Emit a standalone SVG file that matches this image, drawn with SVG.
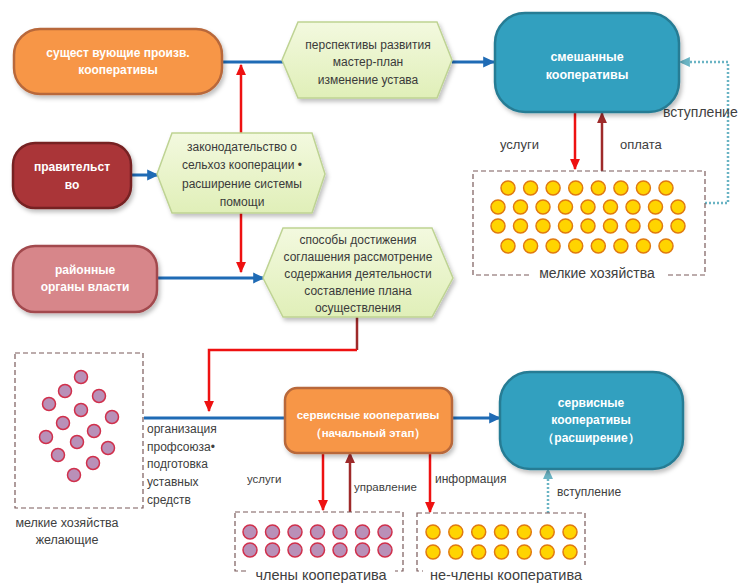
<svg xmlns="http://www.w3.org/2000/svg" width="742" height="583" viewBox="0 0 742 583">
<style>
text{font-family:"Liberation Sans",Arial,sans-serif;fill:#404040}
.w{fill:#ffffff;font-weight:bold;font-size:12px}
.h{font-size:12px;fill:#3a3a3a}
.box{stroke-width:2.5}
.org{fill:#f79646;stroke:#b8683a}
.blu{fill:#31a0bf;stroke:#287c94}
.dred{fill:#aa3439;stroke:#762224}
.pink{fill:#d7868a;stroke:#a24a4e}
.hex{fill:url(#gh);stroke:#bed393;stroke-width:1.5}
.dash{fill:none;stroke:#7a5a5a;stroke-width:1.2;stroke-dasharray:5,3}
.cy{fill:#ffd400;stroke:#e07a10;stroke-width:1.5}
.cp{fill:#b990b8;stroke:#d0304c;stroke-width:1.5}
.lb{stroke:#1f6bb5;stroke-width:3;fill:none}
.lr{stroke:#ee1111;stroke-width:2.5;fill:none}
.ld{stroke:#9e2a2a;stroke-width:2.5;fill:none}
.lt{stroke:#6ab4c4;stroke-width:2.5;fill:none;stroke-dasharray:2,2}
</style>
<defs>
<linearGradient id="gh" x1="0" y1="0" x2="0" y2="1"><stop offset="0" stop-color="#f3f9df"/><stop offset="1" stop-color="#e0efb8"/></linearGradient>
<filter id="sh" x="-10%" y="-10%" width="130%" height="140%"><feDropShadow dx="2" dy="3" stdDeviation="2" flood-color="#000" flood-opacity="0.25"/></filter>
<marker id="mb" markerUnits="userSpaceOnUse" markerWidth="12" markerHeight="12" viewBox="0 0 10 10" refX="9" refY="5" orient="auto"><path d="M0,0.5 L10,5 L0,9.5 z" fill="#1f6bb5"/></marker>
<marker id="mr" markerUnits="userSpaceOnUse" markerWidth="11" markerHeight="11" viewBox="0 0 10 10" refX="9" refY="5" orient="auto"><path d="M0,0.5 L10,5 L0,9.5 z" fill="#ee1111"/></marker>
<marker id="md" markerUnits="userSpaceOnUse" markerWidth="11" markerHeight="11" viewBox="0 0 10 10" refX="9" refY="5" orient="auto"><path d="M0,0.5 L10,5 L0,9.5 z" fill="#9e2a2a"/></marker>
<marker id="mt" markerUnits="userSpaceOnUse" markerWidth="11" markerHeight="11" viewBox="0 0 10 10" refX="9" refY="5" orient="auto"><path d="M0,0.5 L10,5 L0,9.5 z" fill="#6ab4c4"/></marker>
</defs>
<rect width="742" height="583" fill="#ffffff"/>

<g id="connectors">
<path class="lb" d="M222,62 H283"/>
<path class="lb" d="M452,62 H494" marker-end="url(#mb)"/>
<path class="lb" d="M131,175 H158" marker-end="url(#mb)"/>
<path class="lb" d="M157,278 H264" marker-end="url(#mb)"/>
<path class="lb" d="M144,418 H286"/>
<path class="lb" d="M452,418 H500" marker-end="url(#mb)"/>
<path class="lr" d="M241,133 V65" marker-end="url(#mr)"/>
<path class="lr" d="M241,213 V272" marker-end="url(#mr)"/>
<path class="ld" d="M357,317 V350"/>
<path class="lr" d="M357,350 H209 V411" marker-end="url(#mr)"/>
<path class="lr" d="M575,112 V169" marker-end="url(#mr)"/>
<path class="ld" d="M602,171 V113" marker-end="url(#md)"/>
<path class="lt" d="M705,203 H728 V62 H680" marker-end="url(#mt)"/>
<path class="lr" d="M323,453 V510" marker-end="url(#mr)"/>
<path class="ld" d="M350,512 V453" marker-end="url(#md)"/>
<path class="lr" d="M430,453 V512" marker-end="url(#mr)"/>
<path class="lt" d="M548,513 V469" marker-end="url(#mt)"/>
<text x="500" y="149" style="font-size:13px">услуги</text>
<text x="620" y="149" style="font-size:13px">оплата</text>
<text x="663" y="117" style="font-size:14px">вступление</text>
<text x="247" y="483" style="font-size:11.5px">услуги</text>
<text x="354" y="491" style="font-size:11.5px">управление</text>
<text x="435" y="483" style="font-size:12px">информация</text>
<text x="557" y="496" style="font-size:12px">вступление</text>
</g>

<g id="existing">
<rect class="box org" x="14" y="29" width="208" height="65" rx="26" filter="url(#sh)"/>
<text class="w" x="118" y="57" text-anchor="middle">сущест вующие произв.</text>
<text class="w" x="118" y="74" text-anchor="middle">кооперативы</text>
</g>

<g id="perspectives">
<polygon class="hex" points="282,60 298,22 437,22 452,60 437,98 298,98" filter="url(#sh)"/>
<text class="h" x="368" y="49" text-anchor="middle">перспективы развития</text>
<text class="h" x="368" y="66" text-anchor="middle">мастер-план</text>
<text class="h" x="368" y="84" text-anchor="middle">изменение устава</text>
</g>

<g id="mixed">
<rect class="box blu" x="495" y="13" width="184" height="99" rx="30" filter="url(#sh)"/>
<text class="w" x="587" y="61" text-anchor="middle" style="font-size:12.5px">смешанные</text>
<text class="w" x="587" y="79" text-anchor="middle" style="font-size:12.5px">кооперативы</text>
</g>

<g id="government">
<rect class="box dred" x="13" y="143" width="118" height="65" rx="22" filter="url(#sh)"/>
<text class="w" x="72" y="171" text-anchor="middle">правительст</text>
<text class="w" x="72" y="189" text-anchor="middle">во</text>
</g>

<g id="legislation">
<polygon class="hex" points="157,174 172,133 312,133 325,174 312,213 172,213" filter="url(#sh)"/>
<text class="h" x="242" y="151" text-anchor="middle">законодательство о</text>
<text class="h" x="242" y="169" text-anchor="middle">сельхоз кооперации •</text>
<text class="h" x="242" y="188" text-anchor="middle">расширение системы</text>
<text class="h" x="242" y="206" text-anchor="middle">помощи</text>
</g>

<g id="district">
<rect class="box pink" x="13" y="246" width="144" height="66" rx="22" filter="url(#sh)"/>
<text class="w" x="85" y="274" text-anchor="middle">районные</text>
<text class="w" x="85" y="291" text-anchor="middle">органы власти</text>
</g>

<g id="methods">
<polygon class="hex" points="263,278 283,228 432,228 453,278 432,317 283,317" filter="url(#sh)"/>
<text class="h" x="358" y="244" text-anchor="middle">способы достижения</text>
<text class="h" x="358" y="261" text-anchor="middle">соглашения рассмотрение</text>
<text class="h" x="358" y="278" text-anchor="middle">содержания деятельности</text>
<text class="h" x="358" y="295" text-anchor="middle">составление плана</text>
<text class="h" x="358" y="312" text-anchor="middle">осуществления</text>
</g>

<g id="smallfarms">
<rect class="dash" x="473" y="171" width="232" height="104"/>
<g>
<circle class="cy" cx="508" cy="188" r="7"/><circle class="cy" cx="530.6" cy="188" r="7"/><circle class="cy" cx="553.1" cy="188" r="7"/><circle class="cy" cx="575.7" cy="188" r="7"/><circle class="cy" cx="598.3" cy="188" r="7"/><circle class="cy" cx="620.9" cy="188" r="7"/><circle class="cy" cx="643.4" cy="188" r="7"/><circle class="cy" cx="666" cy="188" r="7"/>
<circle class="cy" cx="498" cy="207" r="7"/><circle class="cy" cx="520.5" cy="207" r="7"/><circle class="cy" cx="543" cy="207" r="7"/><circle class="cy" cx="565.5" cy="207" r="7"/><circle class="cy" cx="588" cy="207" r="7"/><circle class="cy" cx="610.5" cy="207" r="7"/><circle class="cy" cx="633" cy="207" r="7"/><circle class="cy" cx="655.5" cy="207" r="7"/><circle class="cy" cx="678" cy="207" r="7"/>
<circle class="cy" cx="498" cy="226" r="7"/><circle class="cy" cx="520.5" cy="226" r="7"/><circle class="cy" cx="543" cy="226" r="7"/><circle class="cy" cx="565.5" cy="226" r="7"/><circle class="cy" cx="588" cy="226" r="7"/><circle class="cy" cx="610.5" cy="226" r="7"/><circle class="cy" cx="633" cy="226" r="7"/><circle class="cy" cx="655.5" cy="226" r="7"/><circle class="cy" cx="678" cy="226" r="7"/>
<circle class="cy" cx="508" cy="246" r="7"/><circle class="cy" cx="530.6" cy="246" r="7"/><circle class="cy" cx="553.1" cy="246" r="7"/><circle class="cy" cx="575.7" cy="246" r="7"/><circle class="cy" cx="598.3" cy="246" r="7"/><circle class="cy" cx="620.9" cy="246" r="7"/><circle class="cy" cx="643.4" cy="246" r="7"/><circle class="cy" cx="666" cy="246" r="7"/>
</g>
<rect x="529" y="265" width="136" height="16" fill="#ffffff"/>
<text x="597" y="278" text-anchor="middle" style="font-size:14px">мелкие хозяйства</text>
</g>

<g id="willing">
<rect class="dash" x="15" y="353" width="128" height="155"/>
<g>
<circle class="cp" cx="81" cy="377" r="6.5"/><circle class="cp" cx="65" cy="391" r="6.5"/><circle class="cp" cx="99" cy="396" r="6.5"/><circle class="cp" cx="49" cy="404" r="6.5"/><circle class="cp" cx="81" cy="410" r="6.5"/><circle class="cp" cx="112" cy="417" r="6.5"/><circle class="cp" cx="63" cy="423" r="6.5"/><circle class="cp" cx="94" cy="431" r="6.5"/><circle class="cp" cx="46" cy="437" r="6.5"/><circle class="cp" cx="77" cy="442" r="6.5"/><circle class="cp" cx="108" cy="448" r="6.5"/><circle class="cp" cx="58" cy="455" r="6.5"/><circle class="cp" cx="93" cy="463" r="6.5"/><circle class="cp" cx="74" cy="475" r="6.5"/>
</g>
<text x="67" y="527" text-anchor="middle" style="font-size:12.5px">мелкие хозяйства</text>
<text x="67" y="544" text-anchor="middle" style="font-size:12.5px">желающие</text>
<text x="147" y="433" style="font-size:12px">организация</text>
<text x="147" y="451" style="font-size:12px">профсоюза•</text>
<text x="147" y="468" style="font-size:12px">подготовка</text>
<text x="147" y="486" style="font-size:12px">уставных</text>
<text x="147" y="504" style="font-size:12px">средств</text>
</g>

<g id="service-initial">
<rect class="box org" x="285" y="388" width="167" height="65" rx="12" filter="url(#sh)"/>
<text class="w" x="368" y="419" text-anchor="middle" style="font-size:11.5px">сервисные кооперативы</text>
<text class="w" x="368" y="437" text-anchor="middle" style="font-size:11.5px">（начальный этап）</text>
</g>

<g id="service-expansion">
<rect class="box blu" x="500" y="372" width="183" height="97" rx="30" filter="url(#sh)"/>
<text class="w" x="591" y="407" text-anchor="middle">сервисные</text>
<text class="w" x="591" y="424" text-anchor="middle">кооперативы</text>
<text class="w" x="591" y="442" text-anchor="middle">（расширение）</text>
</g>

<g id="members">
<rect class="dash" x="235" y="512" width="168" height="59"/>
<g>
<circle class="cp" cx="250" cy="532" r="7"/><circle class="cp" cx="272.5" cy="532" r="7"/><circle class="cp" cx="295" cy="532" r="7"/><circle class="cp" cx="317.5" cy="532" r="7"/><circle class="cp" cx="340" cy="532" r="7"/><circle class="cp" cx="362.5" cy="532" r="7"/><circle class="cp" cx="385" cy="532" r="7"/>
<circle class="cp" cx="250" cy="550" r="7"/><circle class="cp" cx="272.5" cy="550" r="7"/><circle class="cp" cx="295" cy="550" r="7"/><circle class="cp" cx="317.5" cy="550" r="7"/><circle class="cp" cx="340" cy="550" r="7"/><circle class="cp" cx="362.5" cy="550" r="7"/><circle class="cp" cx="385" cy="550" r="7"/>
</g>
<rect x="249" y="565" width="146" height="18" fill="#ffffff"/>
<text x="321" y="580" text-anchor="middle" style="font-size:14.5px">члены кооператива</text>
</g>

<g id="nonmembers">
<rect class="dash" x="417" y="513" width="168" height="58"/>
<g>
<circle class="cy" cx="433" cy="532" r="7"/><circle class="cy" cx="455.8" cy="532" r="7"/><circle class="cy" cx="478.7" cy="532" r="7"/><circle class="cy" cx="501.5" cy="532" r="7"/><circle class="cy" cx="524.3" cy="532" r="7"/><circle class="cy" cx="547.2" cy="532" r="7"/><circle class="cy" cx="570" cy="532" r="7"/>
<circle class="cy" cx="433" cy="552" r="7"/><circle class="cy" cx="455.8" cy="552" r="7"/><circle class="cy" cx="478.7" cy="552" r="7"/><circle class="cy" cx="501.5" cy="552" r="7"/><circle class="cy" cx="524.3" cy="552" r="7"/><circle class="cy" cx="547.2" cy="552" r="7"/><circle class="cy" cx="570" cy="552" r="7"/>
</g>
<rect x="423" y="565" width="166" height="18" fill="#ffffff"/>
<text x="506" y="580" text-anchor="middle" style="font-size:14.5px">не-члены кооператива</text>
</g>
</svg>
